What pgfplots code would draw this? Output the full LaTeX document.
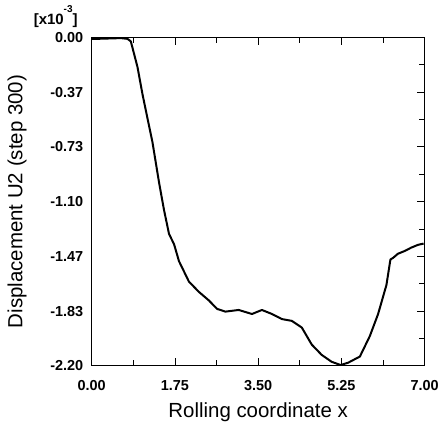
\documentclass[border=0pt]{standalone}
\usepackage{fontspec}
\setmainfont{Liberation Sans}
\usepackage{pgfplots}
\pgfplotsset{compat=1.18}
\begin{document}
\begin{tikzpicture}
\begin{axis}[
  scale only axis,
  width=334pt, height=329.5pt,
  xmin=0, xmax=7, ymin=-2.2, ymax=0,
  xtick={0,1.75,3.5,5.25,7},
  xticklabels={0.00,1.75,3.50,5.25,7.00},
  ytick={-2.2,-1.8333,-1.4667,-1.1,-0.7333,-0.3667,0},
  yticklabels={-2.20,-1.83,-1.47,-1.10,-0.73,-0.37,0.00},
  minor xtick={0.875,2.625,4.375,6.125},
  minor ytick={-2.0167,-1.65,-1.2833,-0.9167,-0.55,-0.1833},
  tick align=inside,
  major tick length=8pt, minor tick length=6pt,
  ytick pos=right, yticklabel pos=left,
  xtick pos=both, xticklabel pos=bottom,
  tick style={black, line width=0.8pt},
  axis line style={line width=0.9pt},
  every tick label/.append style={font=\fontsize{14.5}{16}\selectfont\bfseries},
  xticklabel style={yshift=-11pt},
  yticklabel style={xshift=-5pt},
  xlabel={Rolling coordinate x},
  ylabel={Displacement U2 (step 300)},
  label style={font=\fontsize{20.5}{23}\selectfont, inner sep=0pt},
  xlabel style={at={([yshift=-37pt]axis description cs:0.5,0)}, anchor=north},
  ylabel style={at={([xshift=-65pt]axis description cs:0,0.5)}, anchor=south},
  clip=false,
]
\addplot[black, line width=2pt, line join=round] coordinates {
(0,-0.011)(0.614,-0.005)(0.754,-0.010)(0.823,-0.027)(0.963,-0.199)
(1.068,-0.381)(1.172,-0.541)(1.277,-0.701)(1.417,-0.974)(1.521,-1.157)
(1.626,-1.317)(1.731,-1.385)(1.835,-1.499)(2.044,-1.636)(2.254,-1.705)
(2.463,-1.762)(2.637,-1.819)(2.812,-1.837)(3.091,-1.826)(3.370,-1.853)
(3.580,-1.826)(3.790,-1.853)(3.999,-1.887)(4.208,-1.899)(4.418,-1.944)
(4.627,-2.058)(4.836,-2.127)(5.045,-2.173)(5.234,-2.195)(5.394,-2.179)
(5.639,-2.138)(5.848,-2.001)(6.022,-1.853)(6.197,-1.659)(6.281,-1.488)
(6.337,-1.477)(6.441,-1.449)(6.581,-1.431)(6.721,-1.408)(6.860,-1.390)
(6.979,-1.381)
};
\node[anchor=base east, font=\fontsize{15}{17}\selectfont\bfseries, inner sep=0pt]
  at ([xshift=-14pt,yshift=12.5pt]rel axis cs:0,1) {[x10\raisebox{12pt}{\fontsize{10}{11}\selectfont -3}]};
\path ([xshift=-92pt,yshift=-60pt]rel axis cs:0,0) rectangle ([xshift=16pt,yshift=37.5pt]rel axis cs:1,1);
\end{axis}
\end{tikzpicture}
\end{document}
